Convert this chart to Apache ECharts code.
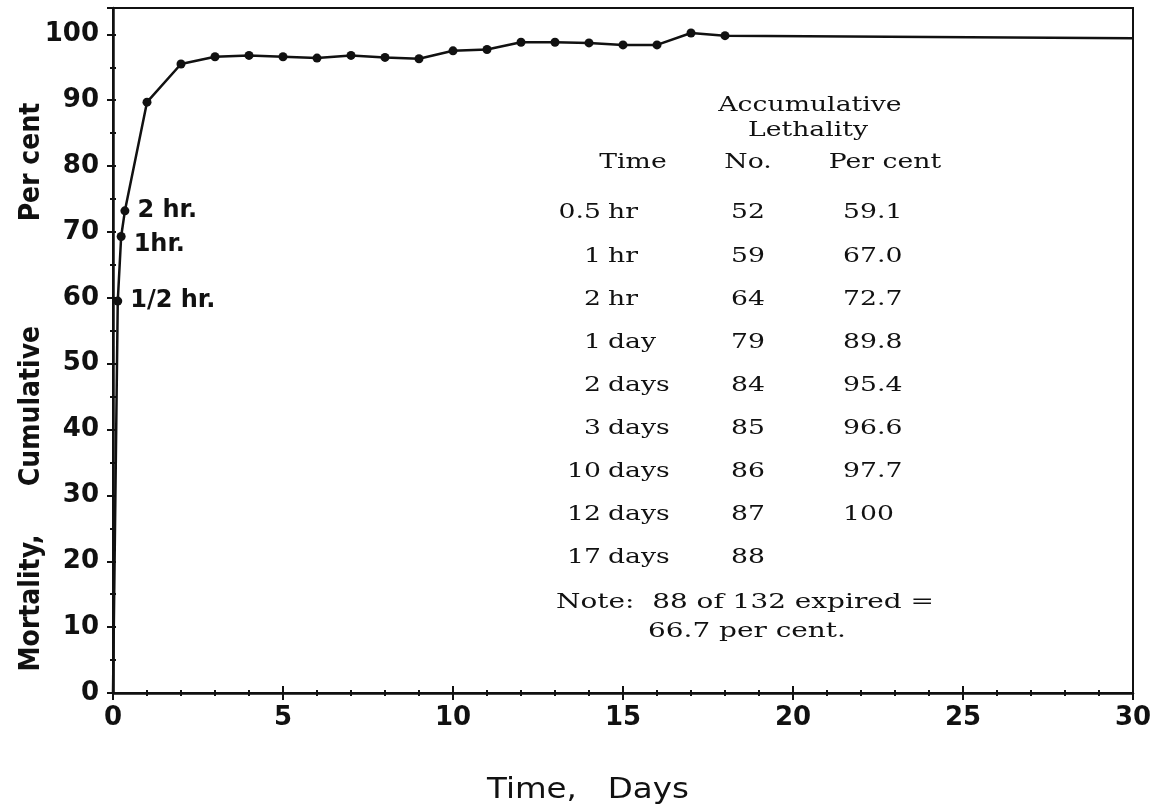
<!DOCTYPE html>
<html lang="en">
<head>
    <meta charset="UTF-8">
    <title>Mortality</title>
    <style>
        html, body { margin: 0; padding: 0; background: #fff; }
        #main { width: 1159px; height: 808px; }
    </style>
</head>
<body>
    <div id="main"></div>
</body>
<script src="https://cdn.jsdelivr.net/npm/echarts@6/dist/echarts.min.js"></script>
<script>
    // curve (time in days, cumulative per cent)
    var days = [0, 0.14, 0.24, 0.35, 1, 2, 3, 4, 5, 6, 7, 8, 9, 10, 11, 12, 13, 14, 15, 16, 17, 18, 30];
    var pct = [0, 59.5, 69.3, 73.2, 89.7, 95.5, 96.6, 96.8, 96.6, 96.4, 96.8, 96.5, 96.3, 97.5, 97.7, 98.8, 98.8, 98.7, 98.4, 98.4, 100.2, 99.8, 99.4];
    var pointNotes = ['', '1/2 hr.', '1hr.', '2 hr.'];

    // table in the plot
    var tblNum = ['0.5', '1', '2', '1', '2', '3', '10', '12', '17'];
    var tblUnit = ['hr', 'hr', 'hr', 'day', 'days', 'days', 'days', 'days', 'days'];
    var tblNo = ['52', '59', '64', '79', '84', '85', '86', '87', '88'];
    var tblPct = ['59.1', '67.0', '72.7', '89.8', '95.4', '96.6', '97.7', '100', ''];

    var sans = '"DejaVu Sans", sans-serif';
    var serif = '"DejaVu Serif", serif';
    var ink = '#111';

    // typewriter text is set wide, so stretch it a little
    var tableFont = '21px ' + serif;
    var wide = 1.27;
    var graphics = [];
    function txt(x, y, s, align, font, sx, rot) {
        graphics.push({
            type: 'text', x: x, y: y, scaleX: sx || wide, rotation: rot || 0,
            style: { text: s, fill: ink, font: font || tableFont, textAlign: align || 'left', textVerticalAlign: 'middle' }
        });
    }
    txt(810, 106, 'Accumulative', 'center');
    txt(808, 131, 'Lethality', 'center');
    txt(633, 163, 'Time', 'center');
    txt(748, 163, 'No.', 'center');
    txt(885, 163, 'Per cent', 'center');
    for (var i = 0; i < tblNum.length; i++) {
        var y = 213 + i * 43.1;
        txt(601, y, tblNum[i], 'right');
        txt(608, y, tblUnit[i], 'left');
        txt(748, y, tblNo[i], 'center');
        txt(843, y, tblPct[i], 'left');
    }
    txt(556, 603, 'Note:  88 of 132 expired =', 'left', null, 1.33);
    txt(648, 632, '66.7 per cent.', 'left', null, 1.33);

    // axis titles
    var yTitleFont = 'bold 28px "DejaVu Sans Condensed", ' + sans;
    graphics.push({ type: 'text', x: 32, y: 603, rotation: Math.PI / 2,
        style: { text: 'Mortality,', fill: ink, font: yTitleFont, textAlign: 'center', textVerticalAlign: 'middle' } });
    graphics.push({ type: 'text', x: 32, y: 406, rotation: Math.PI / 2,
        style: { text: 'Cumulative', fill: ink, font: yTitleFont, textAlign: 'center', textVerticalAlign: 'middle' } });
    graphics.push({ type: 'text', x: 32, y: 162, rotation: Math.PI / 2,
        style: { text: 'Per cent', fill: ink, font: yTitleFont, textAlign: 'center', textVerticalAlign: 'middle' } });
    graphics.push({ type: 'text', x: 588, y: 790, scaleX: 1.12,
        style: { text: 'Time,   Days', fill: ink, font: '500 29px ' + sans, textAlign: 'center', textVerticalAlign: 'middle' } });

    var myChart = echarts.init(document.getElementById('main'));

    var tickLabel = { color: ink, fontFamily: sans, fontWeight: 'bold', fontSize: 26 };
    var line = { show: true, lineStyle: { color: ink, width: 2.5 } };

    myChart.setOption({
        animation: false,
        backgroundColor: '#fff',
        grid: {
            left: 113, right: 26, top: 8, bottom: 115,
            show: true, borderColor: ink, borderWidth: 2
        },
        xAxis: [{
            type: 'value', min: 0, max: 30, interval: 5,
            axisLine: line,
            axisTick: { show: true, length: 7, lineStyle: { color: ink, width: 2 } },
            minorTick: { show: true, splitNumber: 5, length: 3, lineStyle: { color: ink, width: 2 } },
            axisLabel: Object.assign({ margin: 12 }, tickLabel),
            splitLine: { show: false }
        }, {
            type: 'value', min: 0, max: 30, interval: 5, position: 'bottom',
            axisLine: { show: false },
            axisTick: { show: true, inside: true, length: 7, lineStyle: { color: ink, width: 2 } },
            minorTick: { show: true, splitNumber: 5, length: 3, lineStyle: { color: ink, width: 2 } },
            axisLabel: { show: false },
            splitLine: { show: false }
        }],
        yAxis: [{
            type: 'value', min: 0, max: 104, interval: 10,
            axisLine: line,
            axisTick: { show: true, length: 6, lineStyle: { color: ink, width: 2 } },
            minorTick: { show: true, splitNumber: 2, length: 3, lineStyle: { color: ink, width: 2 } },
            axisLabel: Object.assign({
                margin: 14,
                formatter: function (v) { return v % 10 === 0 ? String(v) : ''; }
            }, tickLabel),
            splitLine: { show: false }
        }, {
            type: 'value', min: 0, max: 104, interval: 10, position: 'left',
            axisLine: { show: false },
            axisTick: { show: true, inside: true, length: 3, lineStyle: { color: ink, width: 2 } },
            minorTick: { show: true, splitNumber: 2, length: 3, lineStyle: { color: ink, width: 2 } },
            axisLabel: { show: false },
            splitLine: { show: false }
        }],
        series: [{
            type: 'line',
            data: days.map(function (d, i) { return [d, pct[i]]; }),
            symbol: 'circle',
            symbolSize: function (v, p) {
                return (p.dataIndex === 0 || p.dataIndex === days.length - 1) ? 0 : 9;
            },
            itemStyle: { color: ink },
            lineStyle: { color: ink, width: 2.5 },
            label: {
                show: true,
                position: 'right',
                distance: 8,
                color: ink,
                fontFamily: sans,
                fontWeight: 'bold',
                fontSize: 24,
                formatter: function (p) { return pointNotes[p.dataIndex] || ''; }
            },
            labelLayout: function (p) {
                if (p.dataIndex === 2) return { dy: 8 };
                return {};
            },
            z: 5
        }],
        graphic: graphics
    });
</script>
</html>
